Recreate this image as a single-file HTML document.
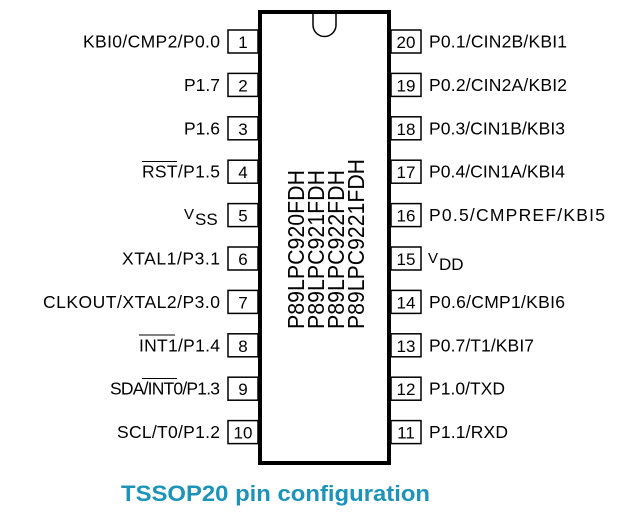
<!DOCTYPE html>
<html><head><style>
html,body{margin:0;padding:0;background:#fff;}
svg{display:block;}
text{font-family:"Liberation Sans",Arial,sans-serif;fill:#000;}
</style></head><body>
<svg width="635" height="523" viewBox="0 0 635 523" xmlns="http://www.w3.org/2000/svg">
<rect x="0" y="0" width="635" height="523" fill="#fff"/>
<rect x="260" y="12" width="129" height="451" fill="#fff" stroke="#000" stroke-width="4"/>
<path d="M313 12 L313 25 A11.5 11.5 0 0 0 336 25 L336 12" fill="none" stroke="#000" stroke-width="1.5"/>
<g stroke="#000" stroke-width="1.5" fill="#fff">
<rect x="228" y="30" width="30" height="23"/><rect x="228" y="73.4" width="30" height="23"/>
<rect x="228" y="116.8" width="30" height="23"/><rect x="228" y="160.2" width="30" height="23"/>
<rect x="228" y="203.6" width="30" height="23"/><rect x="228" y="247" width="30" height="23"/>
<rect x="228" y="290.4" width="30" height="23"/><rect x="228" y="333.8" width="30" height="23"/>
<rect x="228" y="377.2" width="30" height="23"/><rect x="228" y="420.6" width="30" height="23"/>
<rect x="391" y="30" width="30" height="23"/><rect x="391" y="73.4" width="30" height="23"/>
<rect x="391" y="116.8" width="30" height="23"/><rect x="391" y="160.2" width="30" height="23"/>
<rect x="391" y="203.6" width="30" height="23"/><rect x="391" y="247" width="30" height="23"/>
<rect x="391" y="290.4" width="30" height="23"/><rect x="391" y="333.8" width="30" height="23"/>
<rect x="391" y="377.2" width="30" height="23"/><rect x="391" y="420.6" width="30" height="23"/>
</g>
<g font-size="17" text-anchor="middle">
<text x="243" y="48">1</text><text x="243" y="91.4">2</text><text x="243" y="134.8">3</text>
<text x="243" y="178.2">4</text><text x="243" y="221.6">5</text><text x="243" y="265">6</text>
<text x="243" y="308.4">7</text><text x="243" y="351.8">8</text><text x="243" y="395.2">9</text>
<text x="243" y="438.6">10</text>
<text x="406" y="48">20</text><text x="406" y="91.4">19</text><text x="406" y="134.8">18</text>
<text x="406" y="178.2">17</text><text x="406" y="221.6">16</text><text x="406" y="265">15</text>
<text x="406" y="308.4">14</text><text x="406" y="351.8">13</text><text x="406" y="395.2">12</text>
<text x="406" y="438.6">11</text>
</g>
<g font-size="17.5" lengthAdjust="spacingAndGlyphs">
<text x="83" y="47.5" textLength="137">KBI0/CMP2/P0.0</text>
<text x="184" y="90.9" textLength="36">P1.7</text>
<text x="184" y="134.3" textLength="36">P1.6</text>
<text x="142" y="177.7" textLength="78">RST/P1.5</text>
<text x="122" y="264.5" textLength="98">XTAL1/P3.1</text>
<text x="43" y="307.9" textLength="177">CLKOUT/XTAL2/P3.0</text>
<text x="139" y="351.3" textLength="81">INT1/P1.4</text>
<text x="110" y="394.7" textLength="110">SDA/INT0/P1.3</text>
<text x="117" y="438.1" textLength="103">SCL/T0/P1.2</text>
</g>
<text x="184" y="219" font-size="15">V</text><text x="195" y="225" font-size="17">SS</text>
<g stroke="#000" stroke-width="1">
<line x1="142" y1="161.5" x2="177" y2="161.5"/>
<line x1="139" y1="335" x2="175" y2="335"/>
<line x1="142" y1="378.5" x2="177" y2="378.5"/>
</g>
<g font-size="17.5" lengthAdjust="spacingAndGlyphs">
<text x="429" y="47.5" textLength="138">P0.1/CIN2B/KBI1</text>
<text x="429" y="90.9" textLength="138">P0.2/CIN2A/KBI2</text>
<text x="429" y="134.3" textLength="136">P0.3/CIN1B/KBI3</text>
<text x="429" y="177.7" textLength="136">P0.4/CIN1A/KBI4</text>
<text x="429" y="221.1" textLength="176">P0.5/CMPREF/KBI5</text>
<text x="429" y="307.9" textLength="136">P0.6/CMP1/KBI6</text>
<text x="429" y="351.3" textLength="105">P0.7/T1/KBI7</text>
<text x="429" y="394.7" textLength="76">P1.0/TXD</text>
<text x="429" y="438.1" textLength="79">P1.1/RXD</text>
</g>
<text x="428" y="263" font-size="15">V</text><text x="439" y="270" font-size="17">DD</text>
<g font-size="23">
<text transform="translate(304,329) rotate(-90)" textLength="159" lengthAdjust="spacingAndGlyphs">P89LPC920FDH</text>
<text transform="translate(324,329) rotate(-90)" textLength="159" lengthAdjust="spacingAndGlyphs">P89LPC921FDH</text>
<text transform="translate(344,329) rotate(-90)" textLength="159" lengthAdjust="spacingAndGlyphs">P89LPC922FDH</text>
<text transform="translate(364,329) rotate(-90)" textLength="170" lengthAdjust="spacingAndGlyphs">P89LPC9221FDH</text>
</g>
<text x="121" y="501" font-size="22" font-weight="bold" textLength="309" lengthAdjust="spacingAndGlyphs" style="fill:#1c93b8">TSSOP20 pin configuration</text>
</svg>
</body></html>
